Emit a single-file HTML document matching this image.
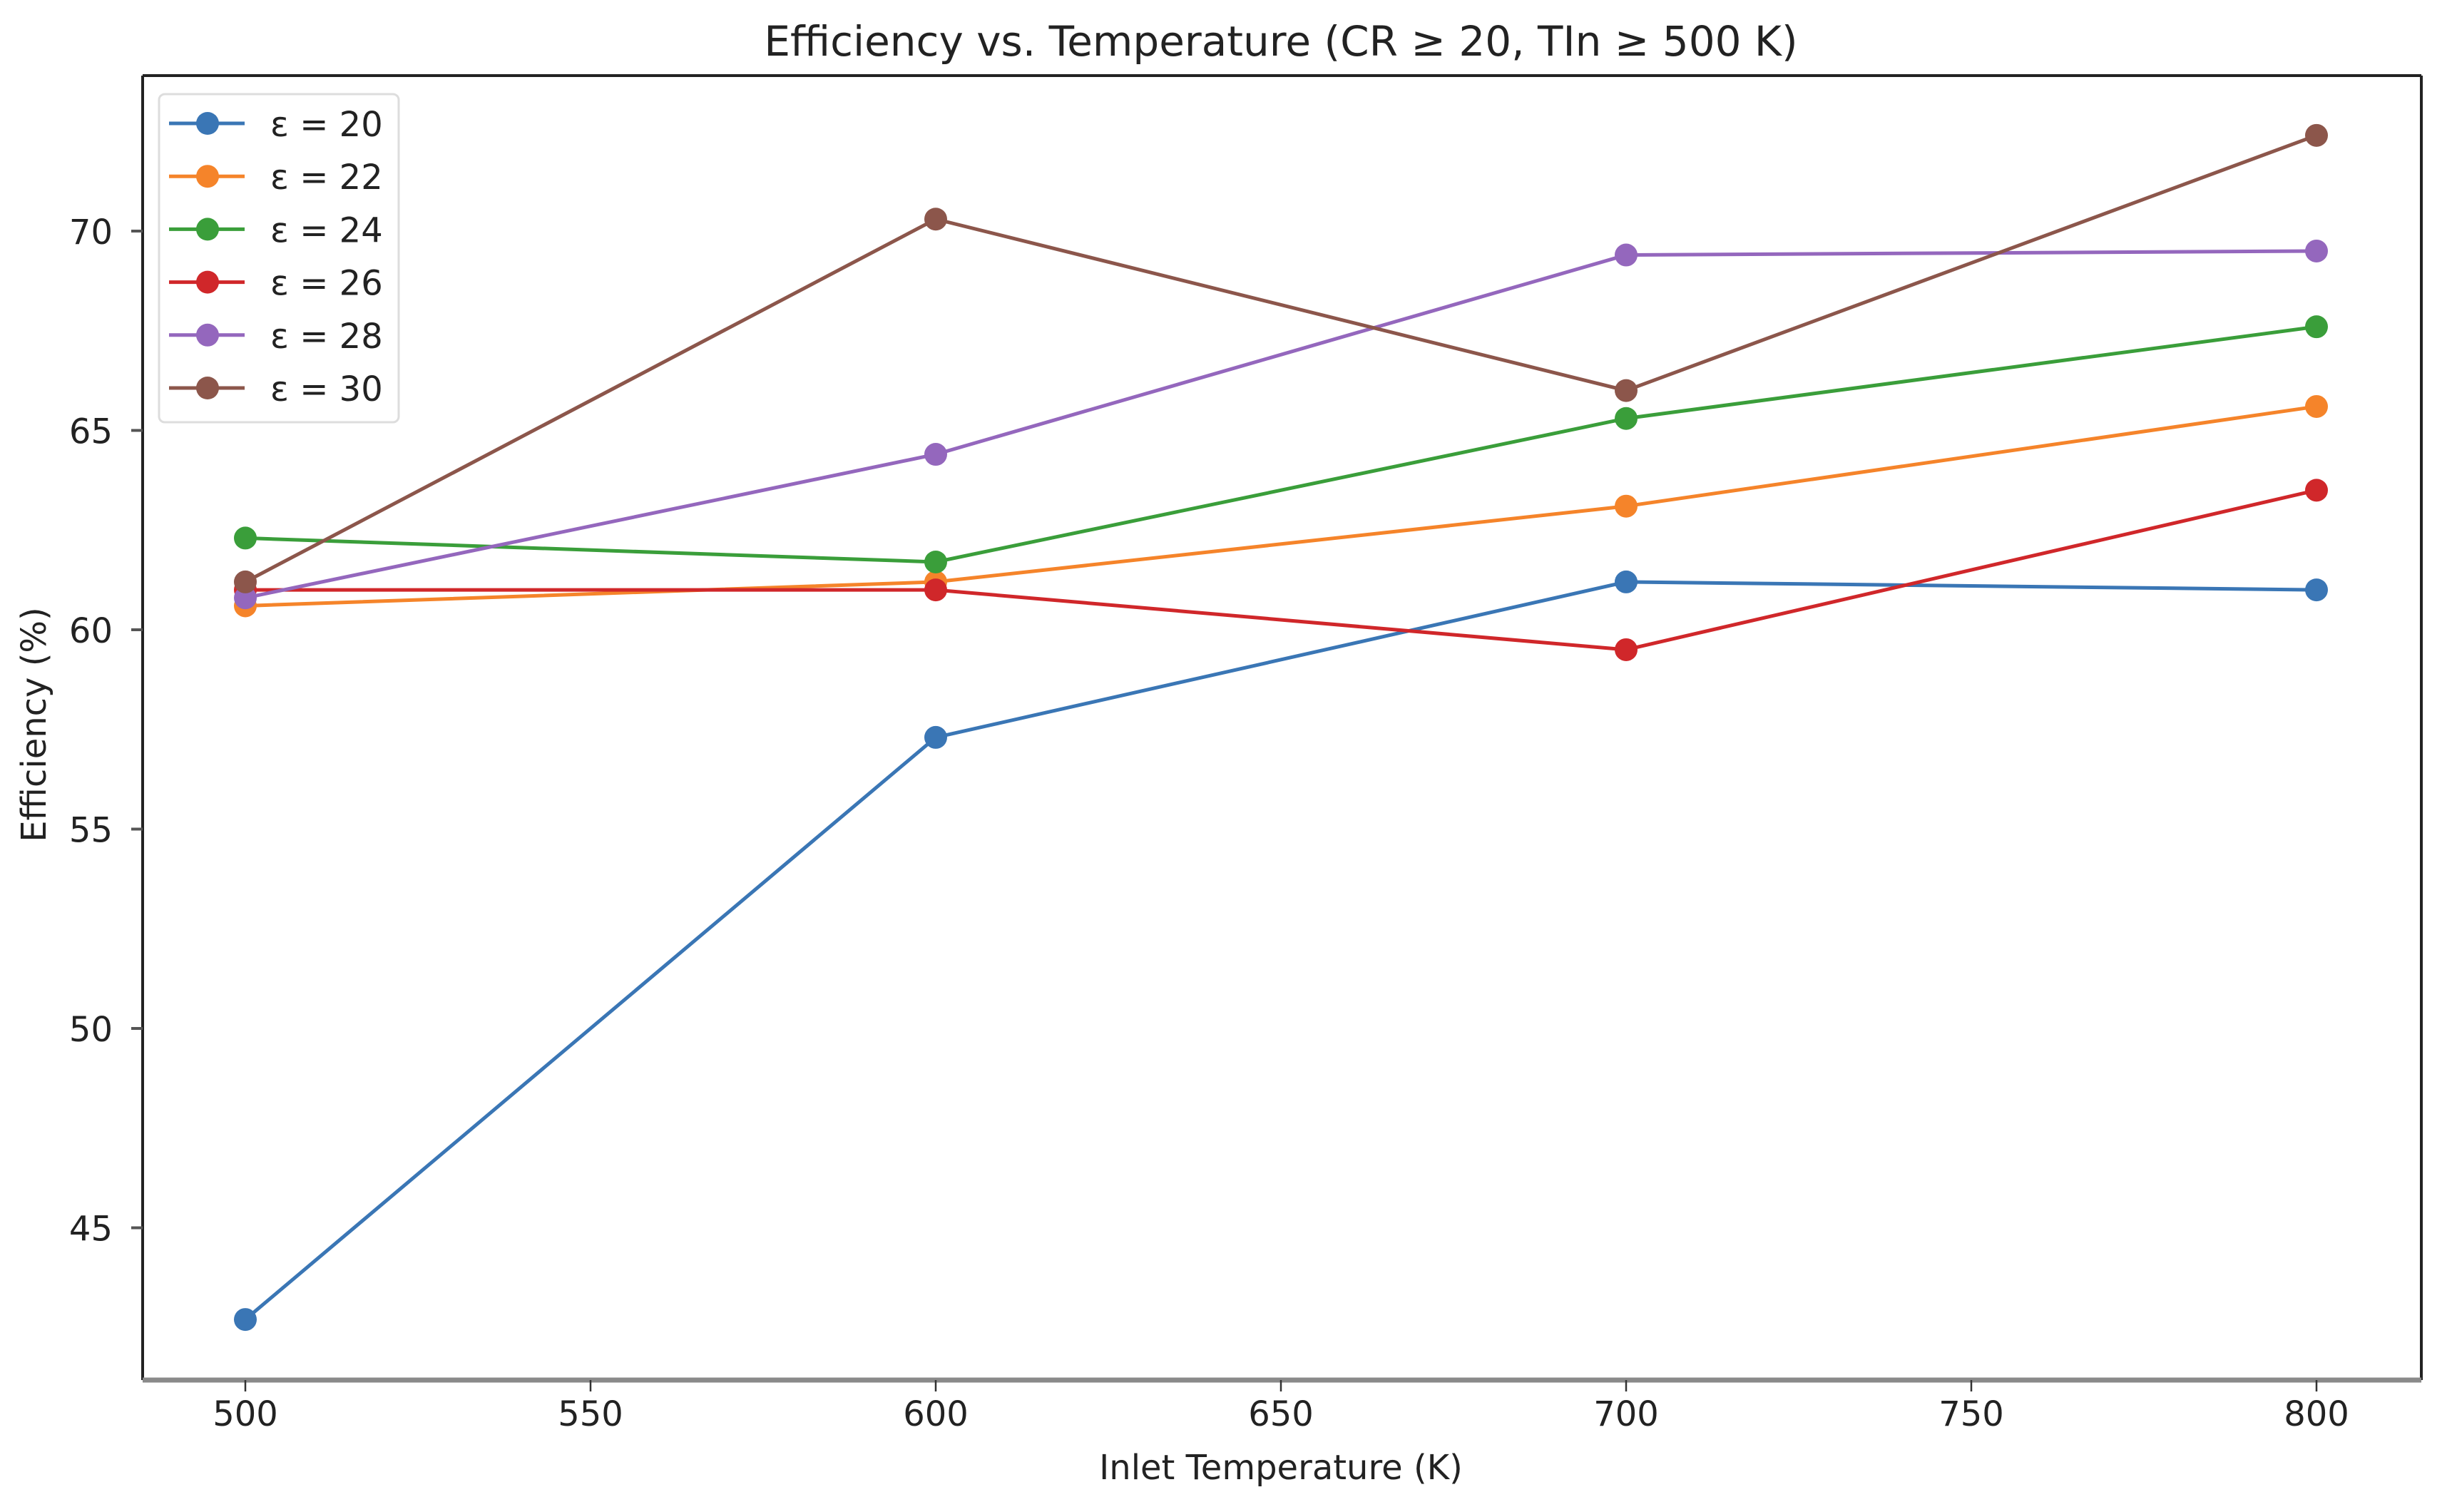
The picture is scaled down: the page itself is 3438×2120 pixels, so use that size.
<!DOCTYPE html>
<html><head><meta charset="utf-8"><style>
html,body{margin:0;padding:0;background:#fff;}
svg{display:block;font-family:"DejaVu Sans","Liberation Sans",sans-serif;}
</style></head><body>
<svg id="chart" width="3438" height="2120" viewBox="0 0 3438 2120" xmlns="http://www.w3.org/2000/svg">
<rect width="3438" height="2120" fill="#fff"/>
<text x="1796" y="78" font-size="58" text-anchor="middle" fill="#222">Efficiency vs. Temperature (CR ≥ 20, TIn ≥ 500 K)</text>
<g id="plot"></g>
<text x="1796" y="2074" font-size="48" text-anchor="middle" fill="#222">Inlet Temperature (K)</text>
<text transform="translate(64,1016) rotate(-90)" font-size="48" text-anchor="middle" fill="#222">Efficiency (%)</text>
</svg>
<script>
const temps = [500, 600, 700, 800];
const seriesNames = ["ε = 20", "ε = 22", "ε = 24", "ε = 26", "ε = 28", "ε = 30"];
const eps20 = [42.7, 57.3, 61.2, 61.0];
const eps22 = [60.6, 61.2, 63.1, 65.6];
const eps24 = [62.3, 61.7, 65.3, 67.6];
const eps26 = [61.0, 61.0, 59.5, 63.5];
const eps28 = [60.8, 64.4, 69.4, 69.5];
const eps30 = [61.2, 70.3, 66.0, 72.4];
const xTicks = [500, 550, 600, 650, 700, 750, 800];
const yTicks = [45, 50, 55, 60, 65, 70];
const colors = ["#3a76b5", "#f5842a", "#3a9e3a", "#d0272a", "#9467bd", "#8c564b"];
const allSeries = [eps20, eps22, eps24, eps26, eps28, eps30];

const NS = "http://www.w3.org/2000/svg";
const L = 200, R = 3395, T = 106, B = 1935;
function xs(t){ return 344 + (t - 500) * 9.68; }
function ys(v){ return 324 + (70 - v) * 55.9; }
const g = document.getElementById("plot");
function mk(tag, attrs, parent){
  const e = document.createElementNS(NS, tag);
  for (const k in attrs) e.setAttribute(k, attrs[k]);
  (parent || g).appendChild(e);
  return e;
}
let s;
s = mk("line", {x1:L, y1:T, x2:R, y2:T, stroke:"#222", "stroke-width":4});


s = mk("line", {x1:L, y1:T, x2:L, y2:B, stroke:"#222", "stroke-width":4});


s = mk("line", {x1:R, y1:T, x2:R, y2:B, stroke:"#222", "stroke-width":4});


s = mk("line", {x1:L, y1:B, x2:R, y2:B, stroke:"#8a8a8a", "stroke-width":7});



xTicks.forEach(t => {
  const x = xs(t);
  const tk = mk("line", {x1:x, y1:B, x2:x, y2:B+16, stroke:"#333", "stroke-width":2.5});
  
  
  const tx = mk("text", {x:x, y:1999, "font-size":48, "text-anchor":"middle", fill:"#222"});
  tx.textContent = t;
  
  
});
yTicks.forEach(v => {
  const y = ys(v);
  const tk = mk("line", {x1:L-16, y1:y, x2:L, y2:y, stroke:"#555", "stroke-width":4});
  
  
  const tx = mk("text", {x:L-42, y:y+18, "font-size":48, "text-anchor":"end", fill:"#222"});
  tx.textContent = v;
  
  
});

allSeries.forEach((vals, i) => {
  const pts = vals.map((v, j) => xs(temps[j]) + "," + ys(v)).join(" ");
  const pl = mk("polyline", {points:pts, fill:"none", stroke:colors[i], "stroke-width":5});
  
  
  vals.forEach((v, j) => {
    const c = mk("circle", {cx:xs(temps[j]), cy:ys(v), r:16, fill:colors[i]});
    
    
  });
});

const lg = mk("rect", {x:223, y:132, width:336, height:460, rx:8, fill:"#fff", "fill-opacity":0.85, stroke:"#ddd", "stroke-width":3});


seriesNames.forEach((n, i) => {
  const y = 173 + i * 74.2;
  const ln = mk("line", {x1:237, y1:y, x2:343, y2:y, stroke:colors[i], "stroke-width":5});
  
  
  const c = mk("circle", {cx:291, cy:y, r:16, fill:colors[i]});
  
  
  const tx = mk("text", {x:379, y:y+18, "font-size":48, fill:"#222"});
  tx.textContent = n;
  
  
});
</script>
</body></html>
